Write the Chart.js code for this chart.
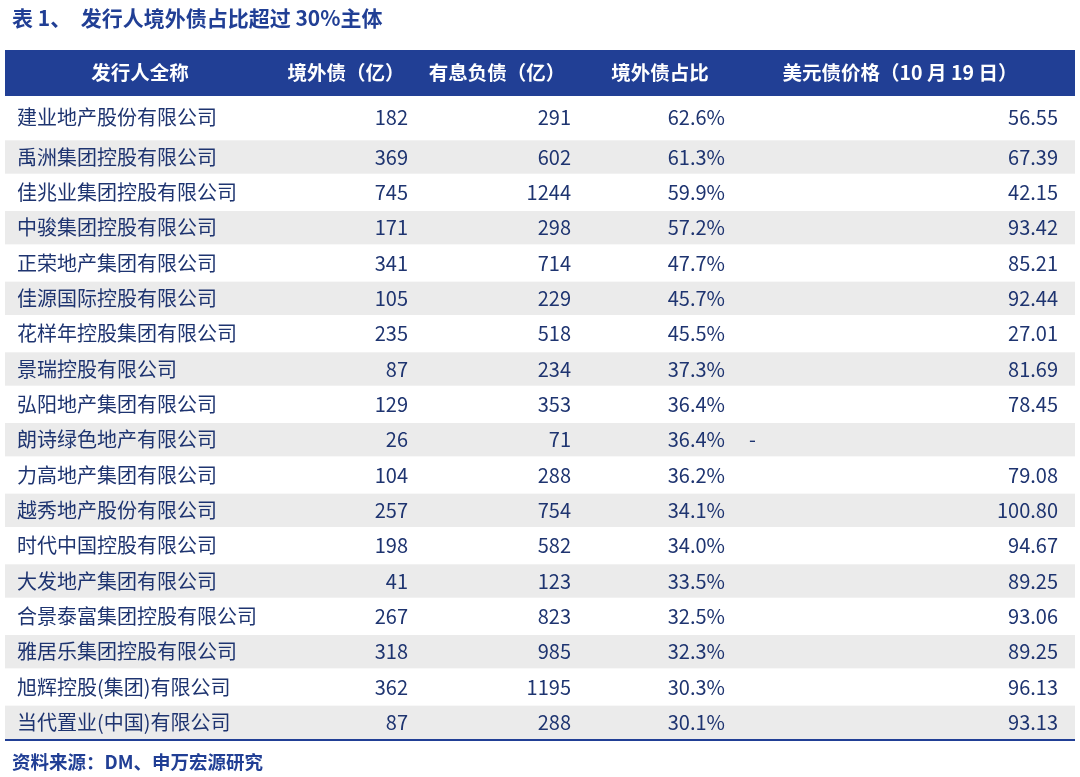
<!DOCTYPE html>
<html><head><meta charset="utf-8">
<script src="https://cdn.jsdelivr.net/npm/chart.js@4"></script>
<style>html,body{margin:0;padding:0;background:#fff}canvas{display:block}</style>
</head><body>
<canvas id="c" width="1080" height="777"></canvas>
<script>
const title = "表 1、  发行人境外债占比超过 30%主体";
const headers = ["发行人全称","境外债（亿）","有息负债（亿）","境外债占比","美元债价格（10 月 19 日）"];
const issuers = ["建业地产股份有限公司","禹洲集团控股有限公司","佳兆业集团控股有限公司","中骏集团控股有限公司","正荣地产集团有限公司","佳源国际控股有限公司","花样年控股集团有限公司","景瑞控股有限公司","弘阳地产集团有限公司","朗诗绿色地产有限公司","力高地产集团有限公司","越秀地产股份有限公司","时代中国控股有限公司","大发地产集团有限公司","合景泰富集团控股有限公司","雅居乐集团控股有限公司","旭辉控股(集团)有限公司","当代置业(中国)有限公司"];
const offshoreDebt = [182,369,745,171,341,105,235,87,129,26,104,257,198,41,267,318,362,87];
const interestDebt = [291,602,1244,298,714,229,518,234,353,71,288,754,582,123,823,985,1195,288];
const offshoreShare = [62.6,61.3,59.9,57.2,47.7,45.7,45.5,37.3,36.4,36.4,36.2,34.1,34.0,33.5,32.5,32.3,30.3,30.1];
const usdBondPrice = [56.55,67.39,42.15,93.42,85.21,92.44,27.01,81.69,78.45,null,79.08,100.80,94.67,89.25,93.06,89.25,96.13,93.13];
const source = "资料来源：DM、申万宏源研究";

const BLUE="#213f95", TXT="#1e3470", F='"Noto Sans CJK SC","Noto Sans",sans-serif';
const tablePlugin={id:'tbl',afterDraw(ch){
  const c=ch.ctx, y=ch.scales.y, L=5, R=1075;
  c.save();
  c.fillStyle=BLUE;c.font='bold 21px '+F;c.textBaseline='middle';c.textAlign='left';
  c.fillText(title,12,18);
  c.fillRect(L,50,R-L,46);
  c.fillStyle='#fff';c.font='bold 19.5px '+F;c.textAlign='center';
  const hx=[140,346,497,660,900];
  headers.forEach((h,i)=>c.fillText(h,hx[i],73));
  const step=y.getPixelForValue(1)-y.getPixelForValue(0);
  issuers.forEach((n,i)=>{
    const cy=y.getPixelForValue(i);
    if(i%2===1){c.fillStyle='#ebebeb';c.fillRect(L,cy-step/2+1,R-L,step-2);}
  });
  c.font='20px '+F;c.fillStyle=TXT;
  issuers.forEach((n,i)=>{
    const cy=y.getPixelForValue(i)+(i===0?-4:0);
    c.textAlign='left';c.fillText(n,17,cy);
    c.textAlign='right';
    c.fillText(String(offshoreDebt[i]),408,cy);
    c.fillText(String(interestDebt[i]),571,cy);
    c.fillText(offshoreShare[i].toFixed(1)+'%',725,cy);
    if(usdBondPrice[i]==null){c.textAlign='left';c.fillText('-',749,cy);}
    else c.fillText(usdBondPrice[i].toFixed(2),1058,cy);
  });
  c.fillStyle=BLUE;c.fillRect(L,739,R-L,2);
  c.font='bold 18.5px '+F;c.textAlign='left';c.fillText(source,12,762);
  c.restore();
}};
new Chart(document.getElementById('c'),{
  type:'bar',
  data:{labels:issuers,datasets:[{data:offshoreShare,backgroundColor:'rgba(0,0,0,0)'}]},
  options:{indexAxis:'y',responsive:false,animation:false,
    layout:{padding:{top:104,bottom:37,left:0,right:0}},
    plugins:{legend:{display:false},tooltip:{enabled:false}},
    scales:{y:{display:false,offset:true},x:{display:false,min:0,max:100}}},
  plugins:[tablePlugin]
});
</script></body></html>
